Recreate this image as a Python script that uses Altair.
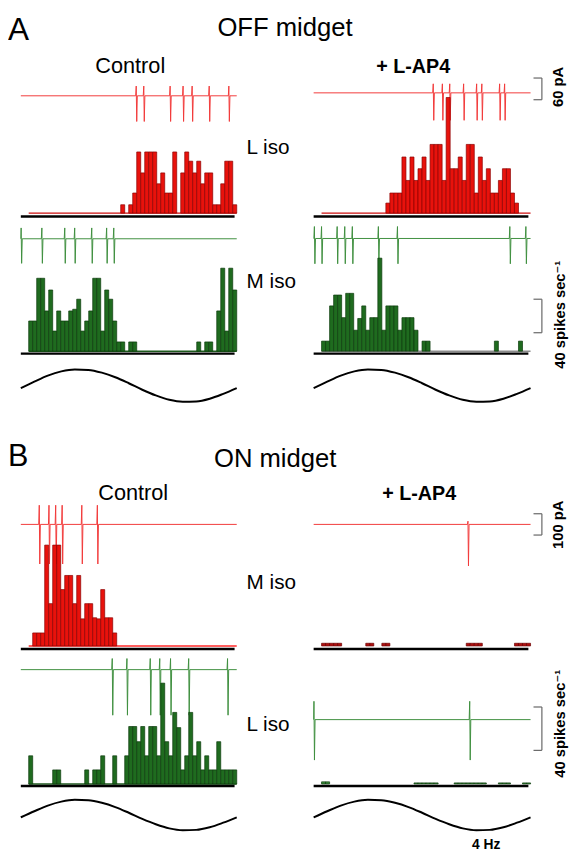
import altair as alt
import pandas as pd

# ---------------- data ----------------
# spike times in the current traces (fraction of one stimulus cycle)
SPK_A_L_CTRL = [0.536, 0.571, 0.693, 0.753, 0.795, 0.874, 0.965]
SPK_A_L_AP4 = [0.553, 0.595, 0.629, 0.693, 0.753, 0.777, 0.859, 0.882]
SPK_A_M_CTRL = [0.003, 0.099, 0.205, 0.251, 0.330, 0.399, 0.432]
SPK_A_M_AP4 = [0.005, 0.038, 0.110, 0.145, 0.180, 0.300, 0.388, 0.906, 0.980]
SPK_B_M_CTRL = [0.087, 0.132, 0.163, 0.193, 0.284, 0.356]
SPK_B_M_AP4 = [0.713]
SPK_B_L_CTRL = [0.425, 0.493, 0.601, 0.645, 0.695, 0.779, 0.959]
SPK_B_L_AP4 = [0.003, 0.721]

# spike amplitudes in pA (upstroke, downstroke)
AMP_A_L_CTRL = (27, -71)
AMP_A_L_AP4 = (25, -76)
AMP_A_M_CTRL = (30, -68)
AMP_A_M_AP4 = (33, -70)
AMP_B_M_CTRL = (90, -186)
AMP_B_M_AP4 = (15, -195)
AMP_B_L_CTRL = (52, -214)
AMP_B_L_AP4 = (86, -190)

# cycle histograms, spikes/s, 52 bins per cycle
PSTH_A_L_CTRL = [0, 0, 0, 0, 0, 0, 0, 0, 0, 0, 0, 0, 0, 0, 0, 0, 0, 0, 0, 0, 0, 0, 0,
                 10, 0, 10, 24, 73, 48, 73, 73, 73, 35, 48, 24, 24, 73, 0, 48, 73, 62, 48,
                 62, 35, 48, 48, 10, 10, 35, 62, 62, 10]
PSTH_A_L_AP4 = [0, 0, 0, 0, 0, 0, 0, 0, 0, 0, 0, 0, 0, 0, 0, 0,
                12, 24, 24, 24, 67, 39, 67, 39, 53, 67, 39, 82, 82, 82, 39, 138, 53, 53,
                67, 39, 82, 82, 24, 67, 39, 53, 24, 24, 39, 53, 53, 24, 12, 0, 0, 0]
PSTH_A_M_CTRL = [36, 36, 87, 87, 48, 73, 24, 48, 36, 36, 48, 50, 62, 24, 36, 48, 87, 87,
                 24, 73, 62, 36, 11, 11, 0, 11, 11, 0, 0, 0, 0, 0, 0, 0, 0, 0, 0, 0, 0,
                 0, 0, 0, 11, 0, 11, 11, 0, 48, 99, 24, 99, 73]
PSTH_A_M_AP4 = [12, 12, 54, 67, 67, 40, 69, 69, 25, 39, 54, 25, 40, 40, 111, 25, 54, 54,
                54, 25, 40, 40, 40, 25, 0, 12, 12, 0, 0, 0, 0, 0, 0, 0, 0, 0, 0, 0, 0,
                0, 0, 0, 0, 12, 0, 0, 0, 0, 0, 12, 0, 0]
PSTH_B_M_CTRL = [0, 12, 12, 12, 93, 39, 93, 93, 52, 65, 65, 39, 65, 25, 39, 39, 26, 25,
                 52, 26, 26, 12, 0, 0, 0, 0, 0, 0, 0, 0, 0, 0, 0, 0, 0, 0, 0, 0, 0, 0,
                 0, 0, 0, 0, 0, 0, 0, 0, 0, 0, 0, 0]
PSTH_B_M_AP4 = [2.5, 2.5, 2.5, 2.5, 2.5, 0, 0, 0, 0, 0, 0, 2.5, 2.5, 0, 0, 2.5, 2.5,
                0, 0, 0, 0, 0, 0, 0, 0, 0, 0, 0, 0, 0, 0, 0, 0, 0, 0, 0,
                2.5, 2.5, 2.5, 2.5, 0, 0, 0, 0, 0, 0, 0, 0, 2.5, 2.5, 2.5, 2.5]
PSTH_B_L_CTRL = [26, 0, 0, 0, 0, 0, 13, 13, 0, 0, 0, 0, 0, 0,
                 13, 0, 13, 13, 26, 0, 0, 26, 0, 0, 26, 53, 53, 39, 53, 26, 53, 53, 26,
                 93, 39, 26, 66, 52, 13, 26, 66, 26, 39, 13, 26, 13, 13, 39, 13, 13, 13, 13]
PSTH_B_L_AP4 = [2, 2, 0, 0, 0, 0, 0, 0, 0, 0, 0, 0, 0, 0, 0, 0, 0, 0, 0, 0, 0, 0, 0,
                1, 1, 1, 1, 1, 1, 0, 0, 0, 0, 1, 1, 1, 1, 1, 1, 1, 1, 0, 0, 0,
                1, 1, 1, 0, 0, 0, 1, 1]

# stimulus modulation (one 4 Hz cycle, 17 samples)
STIM = [-0.15, 0.25, 0.62, 0.88, 1.0, 0.97, 0.8, 0.52, 0.15, -0.25, -0.6, -0.87,
        -0.99, -0.97, -0.8, -0.5, -0.15]

# ---------------- styling / layout ----------------
FONT = "Liberation Sans, Arial, Helvetica, DejaVu Sans, sans-serif"
RED_FILL, RED_EDGE, RED_TRACE = "#e8120c", "#8a0000", "#f23a3a"
GRN_FILL, GRN_EDGE, GRN_TRACE = "#1f6b1f", "#0c3a0c", "#3f8f3f"
BRACKET = "#666666"
HIST_START = 0.0365
LW, RW = 232, 337
LRANGE, RRANGE = [13, 232], [78, 298]
ONE = pd.DataFrame({"d": [0]})


def xs(rng):
    return alt.Scale(domain=[0, 1], range=rng, nice=False, zero=False)


def ys(dom):
    return alt.Scale(domain=dom, nice=False, zero=False)


def ydom(base_px, H, per_px):
    return [-(H - base_px) * per_px, base_px * per_px]


def trace_layer(spikes, amp, color, sx, dom):
    up, down = amp
    pts = [(0.0, 0.0)]
    for t in spikes:
        for dt, v in ((-0.004, 0.0), (-0.0015, up), (0.0008, down), (0.0035, 0.0)):
            pts.append((min(max(t + dt, 0.0), 1.0), v))
    pts.append((1.0, 0.0))
    df = pd.DataFrame(pts, columns=["t", "pA"])
    df["i"] = range(len(df))
    return alt.Chart(df).mark_line(color=color, strokeWidth=1).encode(
        x=alt.X("t:Q", scale=sx, axis=None),
        y=alt.Y("pA:Q", scale=ys(dom), axis=None),
        order="i:Q",
    )


def hist_layers(vals, fill, edge, base_color, sx, dom):
    n = len(vals)
    w = (1 - HIST_START) / n
    df = pd.DataFrame({"t0": [HIST_START + k * w for k in range(n)], "v": vals})
    df["t1"] = df["t0"] + w
    df = df[df["v"] > 0]
    out = []
    if base_color:
        out.append(alt.Chart(ONE).mark_rule(color=base_color, strokeWidth=1.5).encode(
            x=alt.XDatum(HIST_START, scale=sx, axis=None),
            x2=alt.X2Datum(1.0),
            y=alt.YDatum(0, scale=ys(dom), axis=None),
        ))
    out.append(alt.Chart(df).mark_rect(fill=fill, stroke=edge, strokeWidth=0.7).encode(
        x=alt.X("t0:Q", scale=sx, axis=None),
        x2="t1:Q",
        y=alt.Y("v:Q", scale=ys(dom), axis=None),
        y2=alt.Y2Datum(0),
    ))
    return out


def axis_rule(sx, ypx):
    return alt.Chart(ONE).mark_rule(color="black", strokeWidth=2.5).encode(
        x=alt.XDatum(0, scale=sx, axis=None), x2=alt.X2Datum(0.99), y=alt.value(ypx))


def text(s, x, y, size, weight="normal", align="left", angle=0):
    kw = dict(text=s, font=FONT, fontSize=size, fontWeight=weight, align=align,
              color="black")
    if angle:
        kw.update(angle=angle, baseline="middle")
    else:
        kw.update(baseline="alphabetic")
    return alt.Chart(ONE).mark_text(**kw).encode(x=alt.value(x), y=alt.value(y))


def bracket(dom, top, bottom, x0=301, x1=309.5):
    s = ys(dom)
    return [
        alt.Chart(ONE).mark_rule(color=BRACKET, strokeWidth=1.2).encode(
            x=alt.value(x1), y=alt.YDatum(top, scale=s, axis=None), y2=alt.Y2Datum(bottom)),
        alt.Chart(ONE).mark_rule(color=BRACKET, strokeWidth=1.2).encode(
            x=alt.value(x0), x2=alt.value(x1), y=alt.YDatum(top, scale=s, axis=None)),
        alt.Chart(ONE).mark_rule(color=BRACKET, strokeWidth=1.2).encode(
            x=alt.value(x0), x2=alt.value(x1), y=alt.YDatum(bottom, scale=s, axis=None)),
    ]


def cell(W, rng, H, spikes, amp, tcolor, tbase, ppx, psth, fill, edge, bcolor,
         hbase, spx, axis_px, extra=()):
    sx = xs(rng)
    layers = [trace_layer(spikes, amp, tcolor, sx, ydom(tbase, H, ppx))]
    layers += hist_layers(psth, fill, edge, bcolor, sx, ydom(hbase, H, spx))
    layers.append(axis_rule(sx, axis_px))
    layers += list(extra)
    return alt.layer(*layers).resolve_scale(y="independent").properties(width=W, height=H)


def sine_cell(W, rng, H, mid, amp, extra=()):
    n = len(STIM)
    df = pd.DataFrame({"t": [k / (n - 1) for k in range(n)], "s": STIM})
    line = alt.Chart(df).mark_line(color="black", strokeWidth=2, interpolate="monotone").encode(
        x=alt.X("t:Q", scale=xs(rng), axis=None),
        y=alt.Y("s:Q", scale=ys(ydom(mid, H, 1 / amp)), axis=None),
    )
    return alt.layer(line, *extra).properties(width=W, height=H)


# ---------------- panel A ----------------
PA_A = 60 / 22.0
SP_A = 40 / 34.0
hAL = alt.layer(
    text("A", 0, 23, 32),
    text("OFF midget", 281, 19, 26, align="center"),
    text("Control", 124, 57, 22, align="center"),
).properties(width=LW, height=62)
hAR = alt.layer(
    text("+ L-AP4", 179, 57, 20, weight="bold", align="center"),
).properties(width=RW, height=62)

H1 = 142
cAL_l = cell(LW, LRANGE, H1, SPK_A_L_CTRL, AMP_A_L_CTRL, RED_TRACE, 18, PA_A,
             PSTH_A_L_CTRL, RED_FILL, RED_EDGE, "#cc1010", 137, SP_A, 140.5)
cAL_r = cell(RW, RRANGE, H1, SPK_A_L_AP4, AMP_A_L_AP4, RED_TRACE, 15, PA_A,
             PSTH_A_L_AP4, RED_FILL, RED_EDGE, "#cc1010", 137, SP_A, 140.5,
             extra=[text("L iso", 10, 77, 21)]
             + bracket(ydom(15, H1, PA_A), 41, -19)
             + [text("60 pA", 326, 9, 15, weight="bold", align="center", angle=270)])

H2 = 144
cAM_l = cell(LW, LRANGE, H2, SPK_A_M_CTRL, AMP_A_M_CTRL, GRN_TRACE, 21, PA_A,
             PSTH_A_M_CTRL, GRN_FILL, GRN_EDGE, "#1e5a1e", 135, SP_A, 137.5)
cAM_r = cell(RW, RRANGE, H2, SPK_A_M_AP4, AMP_A_M_AP4, GRN_TRACE, 20.7, PA_A,
             PSTH_A_M_AP4, GRN_FILL, GRN_EDGE, "#8c8c8c", 135, SP_A, 137.5,
             extra=[text("M iso", 10, 71, 21)]
             + bracket(ydom(135, H2, SP_A), 62, 22)
             + [text("40 spikes sec\u207b\u00b9", 328, 98, 15, weight="bold",
                     align="center", angle=270)])

H3 = 50
sA_l = sine_cell(LW, LRANGE, H3, 26, 16.5)
sA_r = sine_cell(RW, RRANGE, H3, 26, 16.5)

# ---------------- panel B ----------------
PA_B = 100 / 21.6
SP_B = 40 / 44.0
hBL = alt.layer(
    text("B", 0, 57, 31),
    text("ON midget", 271, 58, 26, align="center"),
    text("Control", 127, 92, 22, align="center"),
).properties(width=LW, height=94)
hBR = alt.layer(
    text("+ L-AP4", 185, 92, 20, weight="bold", align="center"),
).properties(width=RW, height=94)

H4 = 152
cBM_l = cell(LW, LRANGE, H4, SPK_B_M_CTRL, AMP_B_M_CTRL, RED_TRACE, 22.7, PA_B,
             PSTH_B_M_CTRL, RED_FILL, RED_EDGE, "#ff2a2a", 146, SP_B, 149)
cBM_r = cell(RW, RRANGE, H4, SPK_B_M_AP4, AMP_B_M_AP4, RED_TRACE, 22.7, PA_B,
             PSTH_B_M_AP4, "#b01010", "#6a0000", None, 146, SP_B, 149,
             extra=[text("M iso", 10, 88, 21)]
             + bracket(ydom(22.7, H4, PA_B), 50, -50)
             + [text("100 pA", 326, 23, 15, weight="bold", align="center", angle=270)])

H5 = 140
cBL_l = cell(LW, LRANGE, H5, SPK_B_L_CTRL, AMP_B_L_CTRL, GRN_TRACE, 18, PA_B,
             PSTH_B_L_CTRL, GRN_FILL, GRN_EDGE, "#1e5a1e", 134, SP_B, 136)
cBL_r = cell(RW, RRANGE, H5, SPK_B_L_AP4, AMP_B_L_AP4, GRN_TRACE, 68.7, PA_B,
             PSTH_B_L_AP4, "#3f8f3f", GRN_EDGE, None, 134, SP_B, 136,
             extra=[text("L iso", 10, 80, 21)]
             + bracket(ydom(134, H5, SP_B), 71, 31)
             + [text("40 spikes sec\u207b\u00b9", 328, 73, 15, weight="bold",
                     align="center", angle=270)])

H6 = 61
sB_l = sine_cell(LW, LRANGE, H6, 25.5, 15.5)
sB_r = sine_cell(RW, RRANGE, H6, 25.5, 15.5,
                 extra=[text("4 Hz", 253, 60, 14, weight="bold", align="center")])

chart = alt.concat(
    hAL, hAR, cAL_l, cAL_r, cAM_l, cAM_r, sA_l, sA_r,
    hBL, hBR, cBM_l, cBM_r, cBL_l, cBL_r, sB_l, sB_r,
    columns=2, spacing=0, bounds="flush", padding=0,
).configure_view(stroke=None)

chart.save("out.html", embed_options={"renderer": "svg", "actions": False})
